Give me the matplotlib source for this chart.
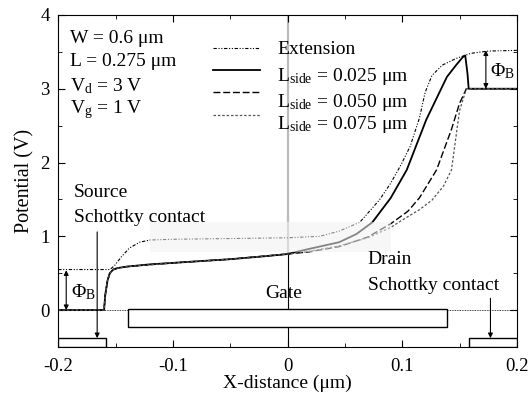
import matplotlib
matplotlib.use('Agg')
import matplotlib.pyplot as plt
from matplotlib.patches import Rectangle

# 電位分布のグラフ (Schottky source/drain)

plt.rcParams['font.family'] = ['Liberation Serif', 'DejaVu Serif']
plt.rcParams['mathtext.fontset'] = 'custom'
plt.rcParams['mathtext.rm'] = 'Liberation Serif'
plt.rcParams['mathtext.it'] = 'Liberation Serif:italic'

# データ
x_ext = [-0.2, -0.155, -0.151, -0.145, -0.138, -0.129, -0.12, -0.1, -0.05, 0.0, 0.028,
         0.045, 0.063, 0.08, 0.09, 0.099, 0.107, 0.115, 0.12, 0.126, 0.135, 0.147,
         0.16, 0.175, 0.2]
y_ext = [0.55, 0.55, 0.6, 0.72, 0.84, 0.92, 0.95, 0.96, 0.97, 0.98, 1.0,
         1.07, 1.19, 1.49, 1.72, 1.97, 2.22, 2.6, 2.95, 3.18, 3.32, 3.41,
         3.48, 3.51, 3.52]

x_l025 = [-0.2, -0.16, -0.159, -0.157, -0.155, -0.152, -0.148, -0.14, -0.12, -0.1, -0.08,
          -0.05, -0.02, 0.0, 0.019, 0.045, 0.06, 0.074, 0.09, 0.104, 0.121, 0.139,
          0.147, 0.153, 0.155, 0.157, 0.158, 0.2]
y_l025 = [0.0, 0.0, 0.2, 0.4, 0.5, 0.55, 0.57, 0.59, 0.62, 0.64, 0.66,
          0.69, 0.73, 0.76, 0.83, 0.92, 1.03, 1.19, 1.52, 1.9, 2.58, 3.16,
          3.32, 3.43, 3.45, 3.2, 3.0, 3.0]

x_l050 = [-0.2, -0.16, -0.159, -0.157, -0.155, -0.152, -0.148, -0.14, -0.1, -0.05,
          0.0, 0.019, 0.045, 0.07, 0.09, 0.105, 0.115, 0.13, 0.143, 0.15, 0.156, 0.2]
y_l050 = [0.0, 0.0, 0.2, 0.4, 0.5, 0.55, 0.57, 0.59, 0.64, 0.69,
          0.76, 0.79, 0.86, 0.99, 1.17, 1.34, 1.52, 1.9, 2.45, 2.8, 3.0, 3.0]

x_l075 = [-0.2, -0.16, -0.159, -0.157, -0.155, -0.152, -0.148, -0.14, -0.1, -0.05,
          0.0, 0.02, 0.045, 0.07, 0.09, 0.1, 0.115, 0.126, 0.136, 0.143, 0.15, 0.156, 0.2]
y_l075 = [0.0, 0.0, 0.2, 0.4, 0.5, 0.55, 0.57, 0.59, 0.64, 0.69,
          0.76, 0.8, 0.87, 0.98, 1.12, 1.22, 1.36, 1.49, 1.68, 1.9, 2.7, 3.0, 3.0]

labels = ['Extension', r'L$_{\rm side}$ = 0.025 μm', r'L$_{\rm side}$ = 0.050 μm',
          r'L$_{\rm side}$ = 0.075 μm']
params = ['W = 0.6 μm', 'L = 0.275 μm', r'V$_{\rm d}$ = 3 V', r'V$_{\rm g}$ = 1 V']

series = [(x_ext, y_ext), (x_l025, y_l025), (x_l050, y_l050), (x_l075, y_l075)]
styles = [dict(color='black', lw=0.8, ls=(0, (3, 1.5, 1, 1.5, 1, 1.5))),
          dict(color='black', lw=1.3, ls='-'),
          dict(color='black', lw=1.0, ls=(0, (5, 2))),
          dict(color='#555555', lw=0.9, ls=(0, (2, 1.5)))]

fig = plt.figure(figsize=(5.29, 3.93), dpi=100)
ax = fig.add_axes([0.110, 0.117, 0.867, 0.845])

# x=0 の縦線
ax.plot([0, 0], [0.76, 4], color='#bbbbbb', lw=1.6, zorder=1)
ax.plot([0, 0], [-0.5, 0.76], color='black', lw=0.8, zorder=1)
# y=0 の基準線
ax.plot([-0.2, 0.2], [0, 0], color='black', lw=0.6, ls=(0, (1, 1)), zorder=1)

for (xs, ys), st in zip(series, styles):
    ax.plot(xs, ys, zorder=2, **st)

# スキャンのかすれ部分
ax.add_patch(Rectangle((-0.12, 0.79), 0.21, 0.41, facecolor='#f2f2f2', alpha=0.55,
                       edgecolor='none', zorder=3))

# ゲートとコンタクト
ax.add_patch(Rectangle((-0.139, -0.23), 0.278, 0.25, facecolor='white',
                       edgecolor='black', lw=1.0, zorder=4))
ax.add_patch(Rectangle((-0.2, -0.5), 0.042, 0.12, facecolor='white',
                       edgecolor='black', lw=1.0, zorder=4))
ax.add_patch(Rectangle((0.158, -0.5), 0.042, 0.12, facecolor='white',
                       edgecolor='black', lw=1.0, zorder=4))

# 矢印
arw = dict(arrowstyle='-|>', color='black', lw=0.8, mutation_scale=7, shrinkA=0, shrinkB=0)
ax.annotate('', xy=(-0.166, -0.38), xytext=(-0.166, 1.06), arrowprops=arw)
ax.annotate('', xy=(0.177, -0.38), xytext=(0.177, 0.16), arrowprops=arw)
darw = dict(arrowstyle='<|-|>', color='black', lw=0.8, mutation_scale=7, shrinkA=0, shrinkB=0)
ax.annotate('', xy=(-0.193, 0.0), xytext=(-0.193, 0.54), arrowprops=darw)
ax.annotate('', xy=(0.173, 3.0), xytext=(0.173, 3.52), arrowprops=darw)

fs = 14
ax.text(-0.189, 0.25, r'Φ$_{\rm B}$', fontsize=fs, va='center', ha='left')
ax.text(0.177, 3.24, r'Φ$_{\rm B}$', fontsize=fs, va='center', ha='left')
ax.text(-0.186, 1.6, 'Source', fontsize=fs, va='center')
ax.text(-0.186, 1.25, 'Schottky contact', fontsize=fs, va='center')
ax.text(-0.003, 0.23, 'Gate', fontsize=fs, va='center', ha='center')
ax.text(0.07, 0.68, 'Drain', fontsize=fs, va='center')
ax.text(0.07, 0.34, 'Schottky contact', fontsize=fs, va='center')

# 条件
for i, s in enumerate(params):
    ax.text(0.026, [0.929, 0.860, 0.785, 0.715][i], s, fontsize=fs, va='center',
            transform=ax.transAxes)

# 凡例 (手で配置)
line_y = [0.900, 0.834, 0.768, 0.699]
text_y = [0.895, 0.815, 0.737, 0.671]
for i, (lab, st) in enumerate(zip(labels, styles)):
    ax.plot([0.338, 0.440], [line_y[i], line_y[i]], transform=ax.transAxes, **st)
    ax.text(0.477, text_y[i], lab, fontsize=fs, va='center', transform=ax.transAxes)

ax.set_xlim(-0.2, 0.2)
ax.set_ylim(-0.5, 4)
ax.set_xticks([-0.2, -0.1, 0, 0.1, 0.2])
ax.set_xticklabels(['-0.2', '-0.1', '0', '0.1', '0.2'])
ax.set_yticks([0, 1, 2, 3, 4])
ax.set_xticks([-0.15, -0.05, 0.05, 0.15], minor=True)
ax.set_yticks([-0.5, 0.5, 1.5, 2.5, 3.5], minor=True)
ax.tick_params(which='both', direction='in', top=True, right=True, labelsize=13.5)
ax.tick_params(axis='x', pad=8)
ax.tick_params(axis='y', pad=6)
ax.tick_params(which='major', length=5)
ax.tick_params(which='minor', length=3)
ax.set_xlabel('X-distance (μm)', fontsize=14, labelpad=0)
ax.set_ylabel('Potential (V)', fontsize=14.5, labelpad=4)

fig.savefig('out.png', dpi=100)
